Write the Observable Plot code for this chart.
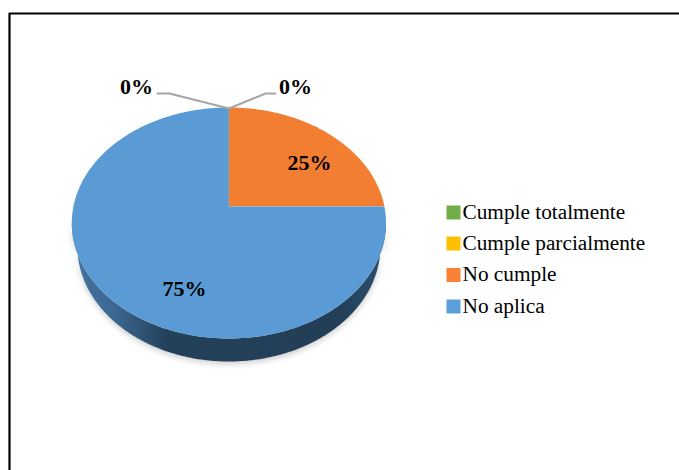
<!DOCTYPE html>
<html><head><meta charset="utf-8">
<script src="https://cdn.jsdelivr.net/npm/d3@7"></script>
<script src="https://cdn.jsdelivr.net/npm/@observablehq/plot@0.6"></script>
<style>html,body{margin:0;padding:0;background:#fff}svg{display:block}</style>
</head><body><div id="chart"></div>
<script>
const categories = ["Cumple totalmente","Cumple parcialmente","No cumple","No aplica"];
const values = [0,0,25,75];
const labels = ["0%","0%","25%","75%"];
const colors = ["#70ad47","#ffc000","#f27f31","#5b9bd5"];
const legendColors = ["#70ad47","#ffc000","#f98035","#5b9fdc"];

// Pie geometry: a tilted disc, projected with perspective
const apex = [228.4,206], radX = 155.5, radY = 113.14, persp = 1/7, depth = 23, baseShrink = 0.965;
const project = (a, r=1, dy=0) => {
  const u = r*Math.sin(a), v = r*Math.cos(a), w = 1 + persp*v;
  return {x: apex[0] + radX*u/w, y: apex[1] - radY*v/w + dy};
};
const TAU = 2*Math.PI;

// Slices from the values (clockwise from 12 o'clock)
const total = d3.sum(values);
let acc = 0;
const sliceAngles = values.map(v => {const s = acc/total*TAU; acc += v; return [s, acc/total*TAU];});
const slicePts = [];
categories.forEach((c,i) => {
  const [a0,a1] = sliceAngles[i];
  slicePts.push({...project(0,0), c});
  const n = Math.max(1, Math.ceil((a1-a0)/TAU*360));
  d3.range(n+1).forEach(k => slicePts.push({...project(a0+(a1-a0)*k/n), c}));
});

// Side wall: the narrower base rim joined to the top rim
const rim = d3.range(721).map(k => project(k/720*TAU));
const iR = d3.greatestIndex(rim, d=>d.x), iL = d3.leastIndex(rim, d=>d.x);
const front = rim.slice(iR, iL+1);
const wall = [
  ...front.map(p=>({x:apex[0]+(p.x-apex[0])*baseShrink,y:p.y+depth})),
  ...front.slice().reverse()
];

// Data labels and leader lines
const labelPos = [[136,86.3],[295,86.3],[309,162.3],[184,288.3]];
const labelData = labels.map((t,i)=>({t,x:labelPos[i][0],y:labelPos[i][1]}));
const pieTop = project(0);
const leaders = [
  {k:"a",x:157,y:93},{k:"a",x:169,y:93},{k:"a",x:pieTop.x,y:pieTop.y+1},
  {k:"b",x:pieTop.x,y:pieTop.y+1},{k:"b",x:265,y:93},{k:"b",x:275,y:93}
];

// Legend
const legendY = [212,243,274.5,306];
const legendRows = categories.map((c,i)=>({c,i,y:legendY[i],ty:legendY[i]-0.7,color:legendColors[i]}));

// Frame
const frameLine = [{x:9,y:470},{x:9,y:13},{x:679,y:13}];

const plot = Plot.plot({
  width:679, height:470, margin:0,
  x:{domain:[0,679],range:[0,679],axis:null},
  y:{domain:[0,470],range:[0,470],axis:null},
  color:{domain:categories,range:colors},
  style:{background:"#fff",fontFamily:"'Liberation Serif'"},
  marks:[
    Plot.line(frameLine,{x:"x",y:"y",stroke:"#000",strokeWidth:2.2}),
    Plot.line(wall,{x:"x",y:"y",fill:"url(#wallGrad)",stroke:"none",curve:"linear",
      imageFilter:"drop-shadow(0 2px 3px rgba(0,0,0,.22))"}),
    Plot.line(slicePts,{x:"x",y:"y",z:"c",fill:"c",stroke:"none",curve:"linear"}),
    Plot.line(leaders,{x:"x",y:"y",z:"k",stroke:"#a5a5a5",strokeWidth:2}),
    Plot.text(labelData,{x:"x",y:"y",text:"t",fontSize:22,fontWeight:"bold",fill:"#000"}),
    Plot.dot(legendRows,{x:()=>453,y:"y",symbol:"square",r:7.9,fill:"color",stroke:"none"}),
    Plot.text(legendRows,{x:()=>462,y:"ty",text:"c",textAnchor:"start",fontSize:21.3,fill:"#000"})
  ]
});
const ns = "http://www.w3.org/2000/svg";
const defs = document.createElementNS(ns,"defs");
defs.innerHTML = `<linearGradient id="wallGrad" gradientUnits="userSpaceOnUse" x1="72" x2="385" y1="0" y2="0">
<stop offset="0" stop-color="#44739f"/><stop offset="0.12" stop-color="#3d6a94"/>
<stop offset="0.3" stop-color="#24415a"/><stop offset="0.85" stop-color="#233f57"/><stop offset="1" stop-color="#2b5070"/></linearGradient>`;
plot.insertBefore(defs, plot.firstChild);
document.getElementById("chart").append(plot);
</script></body></html>
